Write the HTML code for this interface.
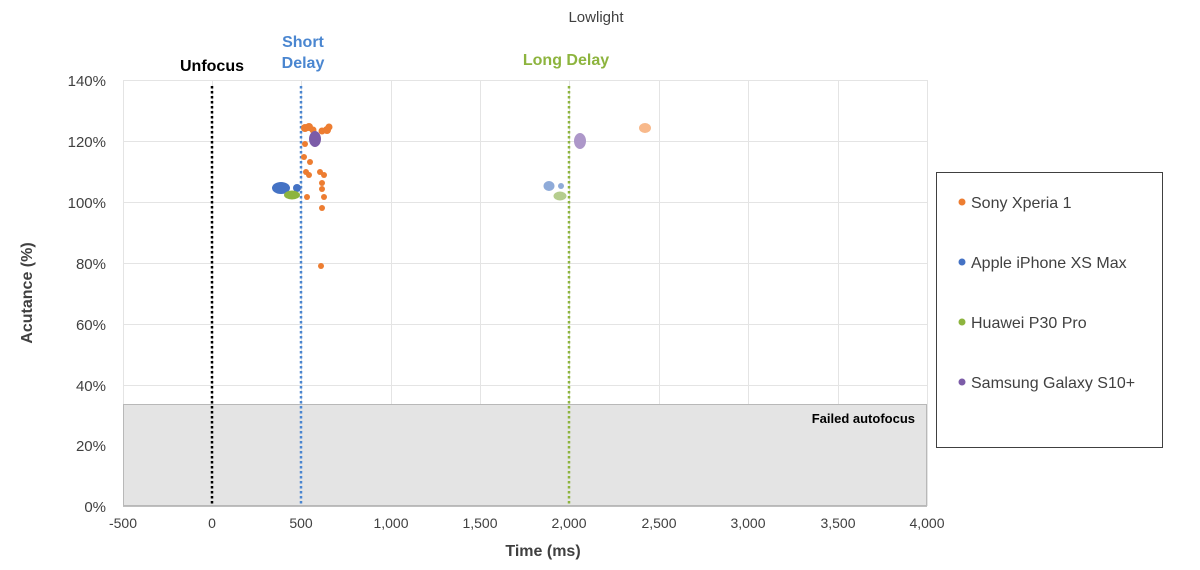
<!DOCTYPE html>
<html><head><style>body{margin:0;background:#fff}svg{display:block;font-family:"Liberation Sans",Arial,sans-serif}</style></head>
<body>
<svg width="1200" height="570" viewBox="0 0 1200 570">
<text x="596" y="22" font-size="15" fill="#404040" text-anchor="middle">Lowlight</text>
<g stroke="#e4e4e4" stroke-width="1">
<line x1="123" y1="80.5" x2="927" y2="80.5"/><line x1="123" y1="141.5" x2="927" y2="141.5"/><line x1="123" y1="202.5" x2="927" y2="202.5"/><line x1="123" y1="263.5" x2="927" y2="263.5"/><line x1="123" y1="324.5" x2="927" y2="324.5"/><line x1="123" y1="385.5" x2="927" y2="385.5"/><line x1="123" y1="445.5" x2="927" y2="445.5"/>
<line x1="123.5" y1="80" x2="123.5" y2="506"/><line x1="212.5" y1="80" x2="212.5" y2="506"/><line x1="301.5" y1="80" x2="301.5" y2="506"/><line x1="391.5" y1="80" x2="391.5" y2="506"/><line x1="480.5" y1="80" x2="480.5" y2="506"/><line x1="569.5" y1="80" x2="569.5" y2="506"/><line x1="659.5" y1="80" x2="659.5" y2="506"/><line x1="748.5" y1="80" x2="748.5" y2="506"/><line x1="838.5" y1="80" x2="838.5" y2="506"/><line x1="927.5" y1="80" x2="927.5" y2="506"/>
</g>
<rect x="123.5" y="404.5" width="803" height="101" fill="#e4e4e4" stroke="#b8b8b8"/>
<line x1="123" y1="506.5" x2="927" y2="506.5" stroke="#bfbfbf"/>
<text x="915" y="423" font-size="13" font-weight="bold" text-anchor="end" fill="#000">Failed autofocus</text>
<g stroke-width="2.5" stroke-dasharray="2.5 2.5">
<line x1="212" y1="86" x2="212" y2="506" stroke="#000"/>
<line x1="301" y1="86" x2="301" y2="506" stroke="#4a86d0"/>
<line x1="569" y1="86" x2="569" y2="506" stroke="#8db43e"/>
</g>
<g font-size="16" font-weight="bold" text-anchor="middle">
<text x="212" y="71" fill="#000">Unfocus</text>
<text x="303" y="47" fill="#4a86d0">Short</text><text x="303" y="68" fill="#4a86d0">Delay</text>
<text x="566" y="65" fill="#8db43e">Long Delay</text>
</g>
<g font-size="15" fill="#404040" text-anchor="end">
<text x="106" y="86">140%</text><text x="106" y="147">120%</text><text x="106" y="208">100%</text><text x="106" y="269">80%</text><text x="106" y="330">60%</text><text x="106" y="391">40%</text><text x="106" y="451">20%</text><text x="106" y="512">0%</text>
</g>
<g font-size="14" fill="#404040" text-anchor="middle">
<text x="123" y="528">-500</text><text x="212" y="528">0</text><text x="301" y="528">500</text><text x="391" y="528">1,000</text><text x="480" y="528">1,500</text><text x="569" y="528">2,000</text><text x="659" y="528">2,500</text><text x="748" y="528">3,000</text><text x="838" y="528">3,500</text><text x="927" y="528">4,000</text>
</g>
<text x="543" y="556" font-size="16" font-weight="bold" fill="#404040" text-anchor="middle">Time (ms)</text>
<text transform="translate(32,293) rotate(-90)" font-size="16" font-weight="bold" fill="#404040" text-anchor="middle">Acutance (%)</text>
<g fill="#ed7d31">
<circle cx="305" cy="128" r="4"/><circle cx="309" cy="127" r="4"/><circle cx="313" cy="130" r="3.5"/><circle cx="322" cy="131" r="3.5"/><circle cx="327" cy="130" r="4"/><circle cx="329" cy="127" r="3.5"/>
<circle cx="305" cy="144" r="3"/><circle cx="304" cy="157" r="3"/><circle cx="310" cy="162" r="3"/><circle cx="306" cy="172" r="3"/><circle cx="309" cy="175" r="3"/><circle cx="320" cy="172" r="3"/><circle cx="324" cy="175" r="3"/><circle cx="322" cy="183" r="3"/><circle cx="322" cy="189" r="3"/><circle cx="307" cy="197" r="3"/><circle cx="324" cy="197" r="3"/><circle cx="322" cy="208" r="3"/><circle cx="321" cy="266" r="3"/>
</g>
<g fill="#7c5ca8"><ellipse cx="315" cy="139" rx="6" ry="8"/></g>
<g fill="#4472c4"><ellipse cx="281" cy="188" rx="9" ry="6"/><circle cx="297" cy="188" r="4"/></g>
<g fill="#8db43e"><ellipse cx="292" cy="195" rx="8" ry="4.5"/></g>
<g fill="#f8b98b"><ellipse cx="645" cy="128" rx="6" ry="5"/></g>
<g fill="#ad97c9"><ellipse cx="580" cy="141" rx="6" ry="8"/></g>
<g fill="#8fabd9"><ellipse cx="549" cy="186" rx="5.5" ry="5"/><circle cx="561" cy="186" r="3"/></g>
<g fill="#b5cd8e"><ellipse cx="560" cy="196" rx="6.5" ry="4.5"/></g>
<rect x="936.5" y="172.5" width="226" height="275" fill="#fff" stroke="#404040"/>
<g font-size="16" fill="#404040">
<circle cx="962" cy="202" r="3.5" fill="#ed7d31"/><text x="971" y="208">Sony Xperia 1</text>
<circle cx="962" cy="262" r="3.5" fill="#4472c4"/><text x="971" y="268">Apple iPhone XS Max</text>
<circle cx="962" cy="322" r="3.5" fill="#8db43e"/><text x="971" y="328">Huawei P30 Pro</text>
<circle cx="962" cy="382" r="3.5" fill="#7c5ca8"/><text x="971" y="388">Samsung Galaxy S10+</text>
</g>
</svg>
</body></html>
